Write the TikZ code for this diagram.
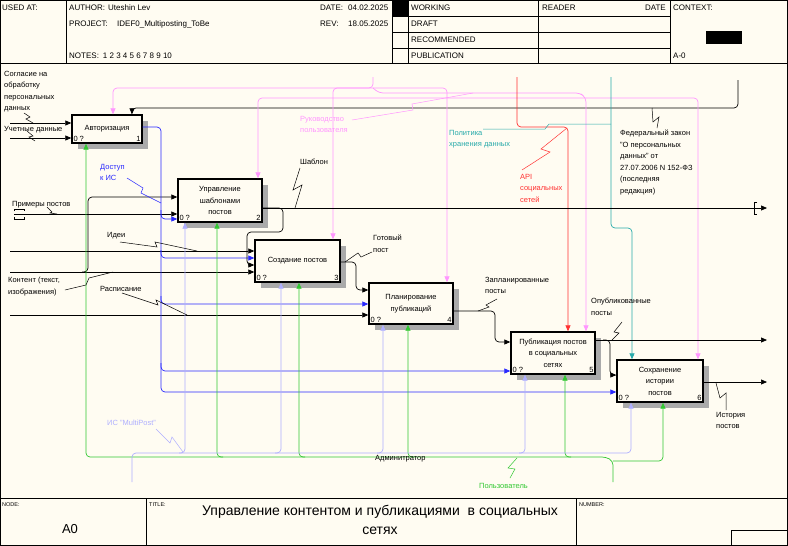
\documentclass[tikz,border=0pt]{standalone}
\usepackage{fontspec}
\setmainfont{Liberation Sans}
\usetikzlibrary{arrows.meta,shadows}

\definecolor{paper}{RGB}{255,252,242}
\definecolor{shade}{RGB}{170,170,170}
\definecolor{pinkc}{RGB}{255,150,255}
\definecolor{bluec}{RGB}{40,40,255}
\definecolor{lavc}{RGB}{175,175,255}
\definecolor{greenc}{RGB}{50,200,50}
\definecolor{redc}{RGB}{255,50,50}
\definecolor{tealc}{RGB}{40,170,170}

\begin{document}
\begin{tikzpicture}[x=1pt, y=-1pt,
  font=\fontsize{7.5}{11.5}\selectfont,
  >={Triangle[length=6pt,width=5pt]},
  box/.style={draw, line width=1.4pt, fill=paper, align=center, inner sep=1pt,
    drop shadow={shadow xshift=6pt, shadow yshift=-6pt, fill=shade, opacity=1}},
  tag/.style={inner sep=2pt},
  ln/.style={line width=0.7pt, rounded corners=4pt},
  tie/.style={line width=0.5pt},
  frame/.style={line width=0.6pt},
  lbl/.style={align=left, anchor=north west, inner sep=0pt},
  txt/.style={anchor=west, inner sep=0pt}]

  % Paper
  \fill[paper] (0,0) rectangle (788,546);
  \useasboundingbox (0,0) rectangle (788,546);

  % Header frame
  \draw[frame] (0.3,0.3) rectangle (787,545.7);
  \draw[line width=1pt] (0,63) -- (788,63);
  \draw[frame] (66,0) -- (66,63);
  \draw[frame] (392,0) -- (392,63);
  \draw[frame] (408,0) -- (408,63);
  \draw[frame] (538,0) -- (538,63);
  \draw[frame] (670,0) -- (670,63);
  \draw[frame] (392,16) -- (670,16);
  \draw[frame] (392,32) -- (670,32);
  \draw[frame] (392,48) -- (670,48);
  \fill[black] (392,0) rectangle (408,16);
  \fill[black] (706,31) rectangle (742,44);

  % Header texts
  \begin{scope}[font=\fontsize{8}{9}\selectfont]
    \node[txt] (hUsed) at (2,8) {USED AT:};
    \node[txt] (hAuthor) at (69,8) {AUTHOR:};
    \node[txt] (hAuthorV) at (108,8) {Uteshin Lev};
    \node[txt] (hProject) at (69,24) {PROJECT:};
    \node[txt] (hProjectV) at (117,24) {IDEF0\_Multiposting\_ToBe};
    \node[txt] (hNotes) at (69,56) {NOTES:\enspace 1 2 3 4 5 6 7 8 9 10};
    \node[txt] (hDate) at (320,8) {DATE:};
    \node[txt] (hDateV) at (348,8) {04.02.2025};
    \node[txt] (hRev) at (320,24) {REV:};
    \node[txt] (hRevV) at (348,24) {18.05.2025};
    \node[txt] (hWorking) at (411,8) {WORKING};
    \node[txt] (hDraft) at (411,24) {DRAFT};
    \node[txt] (hRecom) at (411,40) {RECOMMENDED};
    \node[txt] (hPubl) at (411,56) {PUBLICATION};
    \node[txt] (hReader) at (542,8) {READER};
    \node[anchor=east, inner sep=0pt] (hRDate) at (666,8) {DATE};
    \node[txt] (hContext) at (673,8) {CONTEXT:};
    \node[txt] (hA) at (673,56) {A-0};
  \end{scope}

  % Footer frame
  \draw[line width=1pt] (0,498) -- (788,498);
  \draw[frame] (146,498) -- (146,546);
  \draw[frame] (576,498) -- (576,546);
  \draw[frame] (731,530) rectangle (787,546);
  \node[txt, font=\fontsize{5.5}{6}\selectfont] (fNode) at (2,505) {NODE:};
  \node[txt, font=\fontsize{5.5}{6}\selectfont] (fTitle) at (149,505) {TITLE:};
  \node[txt, font=\fontsize{5.5}{6}\selectfont] (fNumber) at (579,505) {NUMBER:};
  \node[font=\fontsize{13}{14}\selectfont] (fA0) at (70,529) {A0};
  \node[align=center, font=\fontsize{14}{19}\selectfont] (fName) at (380,520)
    {Управление контентом и публикациями\ \ в социальных\\сетях};

  % Activity boxes
  \node[box, minimum width=70, minimum height=28] (b1) at (107,129) {Авторизация};
  \node[box, minimum width=84, minimum height=43] (b2) at (220,200.5) {Управление\\шаблонами\\постов};
  \node[box, minimum width=85, minimum height=42] (b3) at (297.5,261) {Создание постов};
  \node[box, minimum width=84, minimum height=41] (b4) at (411,303.5) {Планирование\\публикаций};
  \node[box, minimum width=84, minimum height=42] (b5) at (553,353) {Публикация постов\\в социальных\\сетях};
  \node[box, minimum width=86, minimum height=42] (b6) at (660,381) {Сохранение\\истории\\постов};

  % Box corner tags
  \node[tag, anchor=south west] (b1z) at (b1.south west) {0 ?};
  \node[tag, anchor=south east] (b1n) at (b1.south east) {1};
  \node[tag, anchor=south west] (b2z) at (b2.south west) {0 ?};
  \node[tag, anchor=south east] (b2n) at (b2.south east) {2};
  \node[tag, anchor=south west] (b3z) at (b3.south west) {0 ?};
  \node[tag, anchor=south east] (b3n) at (b3.south east) {3};
  \node[tag, anchor=south west] (b4z) at (b4.south west) {0 ?};
  \node[tag, anchor=south east] (b4n) at (b4.south east) {4};
  \node[tag, anchor=south west] (b5z) at (b5.south west) {0 ?};
  \node[tag, anchor=south east] (b5n) at (b5.south east) {5};
  \node[tag, anchor=south west] (b6z) at (b6.south west) {0 ?};
  \node[tag, anchor=south east] (b6n) at (b6.south east) {6};

  % Free ends of the arrows
  \coordinate (sConsent) at (10,123);
  \coordinate (sCred) at (10,138);
  \coordinate (sSamples) at (14,214);
  \coordinate (sIdeas) at (10,251);
  \coordinate (sContent) at (10,272);
  \coordinate (sSched) at (10,315);
  \coordinate (sLaw) at (738,80);
  \coordinate (sGuide) at (373,77);
  \coordinate (sApi) at (517,77);
  \coordinate (sPolicy) at (611,77);
  \coordinate (sUser) at (613,482);
  \coordinate (sSystem) at (132,482);
  \coordinate (eTemplate) at (767,208);
  \coordinate (ePosted) at (767,340);
  \coordinate (eHistory) at (767,382);

  % Controls
  \draw[ln,->] (sLaw) -- (738,108) -- (132,108) -- (b1.north -| 132,0);
  \draw[ln,pinkc,->] (sGuide) -- (373,88) -- (113,88) -- (b1.north -| 113,0);
  \draw[ln,pinkc,->] (373,88) -- (333,88) -- (b3.north -| 333,0);
  \draw[ln,pinkc,->] (373,88) -- (447,88) -- (b4.north -| 447,0);
  \draw[ln,pinkc,->] (373,88) -- (379,93) -- (580,93) -- (586,98) -- (b5.north -| 586,0);
  \draw[ln,pinkc,->] (586,98) -- (258,98) -- (b2.north -| 258,0);
  \draw[ln,pinkc,->] (586,98) -- (698,98) -- (b6.north -| 698,0);
  \draw[ln,redc,->] (sApi) -- (517,127) -- (568,127) -- (b5.north -| 568,0);
  \draw[ln,tealc,->] (sPolicy) -- (611,228) -- (632,228) -- (b6.north -| 632,0);

  % Inputs
  \draw[ln,->] (sConsent) -- (b1.west |- sConsent);
  \draw[ln,->] (sCred) -- (b1.west |- sCred);
  \draw[ln,->] (sSamples) -- (b2.west |- sSamples);
  \draw[ln,->] (sIdeas) -- (b3.west |- sIdeas);
  \draw[ln,->] (sContent) -- (b3.west |- sContent);
  \draw[ln,->] (82,272) -- (88,272) -- (88,197) -- (b2.west |- 0,197);
  \draw[ln,->] (sSched) -- (b4.west |- sSched);

  % Access to the system
  \draw[ln,bluec,->] (b1.east |- 0,127) -- (161,127) -- (161,392) -- (b6.west |- 0,392);
  \draw[ln,bluec,->] (161,210) -- (161,219) -- (b2.west |- 0,219);
  \draw[ln,bluec,->] (161,250) -- (161,258) -- (b3.west |- 0,258);
  \draw[ln,bluec,->] (161,296) -- (161,304) -- (b4.west |- 0,304);
  \draw[ln,bluec,->] (161,363) -- (161,371) -- (b5.west |- 0,371);

  % Outputs
  \draw[ln,->] (b2.east |- eTemplate) -- (eTemplate);
  \draw[ln,->] (b2.east |- eTemplate) -- (283,208) -- (283,232) -- (247,232) -- (247,265) -- (b3.west |- 0,265);
  \draw[ln,->] (b3.east |- 0,262) -- (356,262) -- (356,290) -- (b4.west |- 0,290);
  \draw[ln,->] (b4.east |- 0,311) -- (495,311) -- (495,342) -- (b5.west |- 0,342);
  \draw[ln,->] (b5.east |- ePosted) -- (ePosted);
  \draw[ln,->] (603,340) -- (610,340) -- (610,375) -- (b6.west |- 0,375);
  \draw[ln,->] (b6.east |- eHistory) -- (eHistory);

  % Tunnels
  \draw[tie] (14,211) -- (14,209) -- (24,209) -- (24,211);
  \draw[tie] (14,217) -- (14,219) -- (24,219) -- (24,217);
  \draw[tie] (757,202) -- (754,202) -- (754,214) -- (757,214);

  % Mechanisms
  \draw[ln,greenc,->] (sUser) -- (613,461) -- (606,457) -- (86,457) -- (b1.south -| 86,0);
  \draw[ln,greenc,->] (613,461) -- (663,461) -- (b6.south -| 663,0);
  \draw[ln,greenc,->] (223,457) -- (217,457) -- (b2.south -| 217,0);
  \draw[ln,greenc,->] (305,457) -- (299,457) -- (b3.south -| 299,0);
  \draw[ln,greenc,->] (414,457) -- (408,457) -- (b4.south -| 408,0);
  \draw[ln,greenc,->] (571,457) -- (565,457) -- (b5.south -| 565,0);
  \draw[ln,lavc,->] (sSystem) -- (132,453) -- (631,453) -- (b6.south -| 631,0);
  \draw[ln,lavc,->] (179,453) -- (185,453) -- (b2.south -| 185,0);
  \draw[ln,lavc,->] (275,453) -- (281,453) -- (b3.south -| 281,0);
  \draw[ln,lavc,->] (377,453) -- (383,453) -- (b4.south -| 383,0);
  \draw[ln,lavc,->] (519,453) -- (525,453) -- (b5.south -| 525,0);

  % Arrow labels
  \node[lbl] (lConsent) at (4,71) {Согласие на\\обработку\\персональных\\данных};
  \node[txt] (lCred) at (4,130) {Учетные данные};
  \node[txt] (lSamples) at (12,205) {Примеры постов};
  \node[txt] (lIdeas) at (107,236) {Идеи};
  \node[lbl] (lContent) at (8,277) {Контент (текст,\\изображения)};
  \node[txt] (lSched) at (100,289) {Расписание};
  \node[lbl, bluec] (lAccess) at (100,164) {Доступ\\к ИС};
  \node[txt] (lTemplate) at (300,162) {Шаблон};
  \node[lbl, pinkc] (lGuide) at (300,116) {Руководство\\пользователя};
  \node[lbl, tealc] (lPolicy) at (449,130) {Политика\\хранения данных};
  \node[lbl, redc] (lApi) at (520,174) {API\\социальных\\сетей};
  \node[lbl] (lLaw) at (620,130) {Федеральный закон\\"О персональных\\данных" от\\27.07.2006 N 152-ФЗ\\(последняя\\редакция)};
  \node[lbl] (lReady) at (373,235) {Готовый\\пост};
  \node[lbl] (lPlanned) at (485,277) {Запланированные\\посты};
  \node[lbl] (lPosted) at (591,298) {Опубликованные\\посты};
  \node[lbl] (lHistory) at (716,412) {История\\постов};
  \node[txt, lavc] (lSystem) at (107,423) {ИС "MultiPost"};
  \node[txt] (lAdmin) at (375,459) {Админитратор};
  \node[txt, greenc] (lUser) at (479,486) {Пользователь};

  % Label ties
  \draw[tie] (24,113) -- (30,117) -- (26,119) -- (33,123);
  \draw[tie] (27,131) -- (33,136) -- (29,137) -- (35,141);
  \draw[tie] (47,207) -- (52,212) -- (50,213) -- (57,214);
  \draw[tie] (120,242) -- (157,247) -- (155,242) -- (197,251);
  \draw[tie] (65,290) -- (86,285) -- (89,278) -- (113,272);
  \draw[tie] (122,293) -- (158,305) -- (156,300) -- (187,315);
  \draw[tie, bluec] (127,178) -- (143,188) -- (141,193) -- (161,203);
  \draw[tie] (300,168) -- (293,190) -- (302,185) -- (295,208);
  \draw[tie, pinkc] (352,120) -- (413,110) -- (412,104) -- (473,93);
  \draw[tie, tealc] (483,129) -- (545,129) -- (549,124) -- (611,124);
  \draw[tie, redc] (522,170) -- (550,152) -- (541,149) -- (567,128);
  \draw[tie] (652,108) -- (653,122) -- (659,117) -- (657,128);
  \draw[tie] (345,262) -- (358,253) -- (361,257) -- (372,252);
  \draw[tie] (497,299) -- (486,305) -- (489,307) -- (478,311);
  \draw[tie] (622,322) -- (614,332) -- (619,333) -- (612,340);
  \draw[tie] (716,383) -- (720,398) -- (726,393) -- (726,410);
  \draw[tie, lavc] (156,429) -- (170,443) -- (172,437) -- (183,452);
  \draw[tie, greenc] (517,458) -- (508,468) -- (515,469) -- (510,478);

\end{tikzpicture}
\end{document}
